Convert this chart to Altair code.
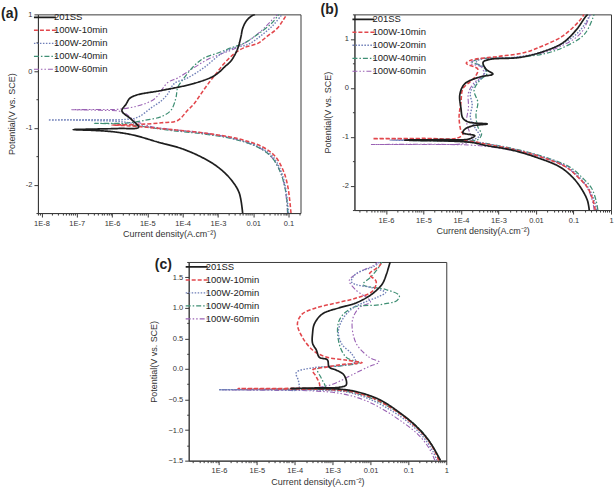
import altair as alt
import pandas as pd

SERIES = ["201SS", "100W-10min", "100W-20min", "100W-40min", "100W-60min"]
COLORS = ["#1e1e1e", "#e2474c", "#6f7fb8", "#3f8f74", "#9a62b4"]
DASHES = [[1, 0], [4, 2], [1.5, 1.5], [5, 2, 1.5, 2], [5, 2, 1.5, 2, 1.5, 2]]
WIDTHS = [1.7, 1.1, 1.1, 1.1, 1.1]
FONT = "Liberation Sans"

# ---------------- panel (a): log10(current density), potential (V) ----------------
a_201_logi = [-2.30, -2.40, -2.63, -3.00, -3.48, -4.05, -4.70, -5.37, -5.94, -6.50, -7.10, -6.50, -5.80, -5.25, -5.45,
              -5.72, -5.60, -5.50, -5.30, -4.60, -3.70, -3.10, -2.80, -2.63, -2.45, -2.35, -2.30, -2.20, -2.05, -1.95]
a_201_E = [-2.50, -2.14, -1.91, -1.69, -1.51, -1.36, -1.25, -1.13, -1.07, -1.045, -1.03, -1.02, -1.01, -0.99, -0.85,
           -0.70, -0.58, -0.48, -0.42, -0.34, -0.22, -0.08, 0.08, 0.18, 0.38, 0.60, 0.75, 0.88, 0.97, 1.00]
a_10_logi = [-0.93, -0.97, -1.03, -1.15, -1.38, -1.75, -2.50, -3.40, -4.30, -5.00, -5.60, -6.00, -5.30, -4.60, -4.14,
             -3.86, -3.67, -3.48, -3.25, -3.06, -2.83, -2.55, -2.27, -1.87, -1.59, -1.31, -1.14, -1.05]
a_10_E = [-2.50, -2.25, -2.00, -1.75, -1.50, -1.33, -1.18, -1.09, -1.03, -0.99, -0.96, -0.95, -0.94, -0.91, -0.87,
          -0.69, -0.57, -0.40, -0.20, -0.05, 0.13, 0.30, 0.41, 0.49, 0.62, 0.76, 0.91, 1.00]
a_20_logi = [-1.00, -1.04, -1.10, -1.22, -1.45, -1.85, -2.60, -3.50, -4.40, -5.10, -5.60, -6.50, -7.80, -6.50, -5.60,
             -5.26, -4.90, -4.60, -4.42, -4.24, -3.86, -3.40, -2.92, -2.55, -2.15, -1.79, -1.42, -1.22, -1.18]
a_20_E = [-2.50, -2.25, -2.00, -1.75, -1.50, -1.33, -1.18, -1.09, -1.03, -0.97, -0.90, -0.87, -0.86, -0.855, -0.85,
          -0.81, -0.65, -0.52, -0.40, -0.22, -0.12, 0.06, 0.30, 0.41, 0.47, 0.62, 0.82, 0.97, 1.00]
a_40_logi = [-1.02, -1.05, -1.12, -1.25, -1.50, -1.90, -2.60, -3.50, -4.40, -5.20, -5.80, -6.50, -5.60, -5.10, -4.60,
             -4.33, -4.19, -4.14, -3.96, -3.68, -3.40, -3.00, -2.63, -2.27, -1.87, -1.50, -1.31, -1.28]
a_40_E = [-2.50, -2.25, -2.00, -1.75, -1.50, -1.33, -1.19, -1.10, -1.04, -0.97, -0.93, -0.92, -0.915, -0.87, -0.80,
          -0.69, -0.47, -0.29, -0.12, 0.09, 0.23, 0.32, 0.41, 0.49, 0.65, 0.83, 0.97, 1.00]
a_60_logi = [-1.03, -1.06, -1.12, -1.25, -1.50, -1.90, -2.60, -3.50, -4.40, -5.00, -5.40, -5.70, -6.30, -7.15, -6.20,
             -5.80, -5.26, -4.80, -4.42, -4.14, -3.68, -3.28, -2.92, -2.55, -2.15, -1.79, -1.50, -1.31]
a_60_E = [-2.50, -2.25, -2.00, -1.75, -1.50, -1.33, -1.18, -1.08, -1.02, -0.96, -0.85, -0.72, -0.69, -0.68, -0.675,
          -0.67, -0.61, -0.49, -0.20, -0.12, 0.06, 0.21, 0.30, 0.39, 0.53, 0.70, 0.88, 1.00]

# ---------------- panel (b) ----------------
b_201_logi = [-0.58, -0.63, -0.80, -1.00, -1.36, -2.00, -2.61, -3.33, -3.70, -4.30, -5.00, -5.50, -4.50, -3.80, -3.63,
              -3.95, -3.90, -3.70, -3.30, -3.80, -3.95, -4.00, -4.03, -3.90, -3.50, -3.15, -3.33, -3.41, -3.23, -2.43,
              -1.73, -1.28, -0.93, -0.67, -0.62]
b_201_E = [-2.50, -2.30, -2.05, -1.85, -1.62, -1.42, -1.28, -1.18, -1.12, -1.09, -1.08, -1.07, -1.06, -1.05, -0.98,
           -0.92, -0.85, -0.78, -0.74, -0.70, -0.62, -0.42, -0.14, 0.08, 0.22, 0.28, 0.38, 0.52, 0.58, 0.62,
           0.76, 0.92, 1.18, 1.46, 1.50]
b_10_logi = [-0.42, -0.48, -0.62, -0.85, -1.20, -1.85, -2.50, -3.20, -3.70, -4.20, -5.00, -6.35, -5.00, -4.10, -3.95,
             -4.00, -4.05, -4.00, -3.95, -3.76, -3.60, -3.55, -3.86, -3.75, -3.00, -2.30, -1.81, -1.28, -0.83, -0.72]
b_10_E = [-2.50, -2.30, -2.05, -1.85, -1.62, -1.42, -1.28, -1.17, -1.10, -1.06, -1.045, -1.04, -1.035, -1.03, -0.95,
          -0.88, -0.60, -0.30, -0.02, 0.12, 0.25, 0.38, 0.50, 0.56, 0.64, 0.72, 0.86, 1.06, 1.38, 1.50]
b_20_logi = [-0.38, -0.45, -0.60, -0.82, -1.15, -1.80, -2.45, -3.15, -3.60, -4.20, -5.00, -5.90, -4.50, -3.70, -3.50,
             -3.60, -3.75, -3.70, -3.75, -3.60, -3.40, -3.35, -3.60, -3.50, -2.60, -1.90, -1.30, -0.85, -0.55]
b_20_E = [-2.50, -2.30, -2.05, -1.85, -1.62, -1.42, -1.28, -1.17, -1.11, -1.08, -1.075, -1.07, -1.065, -1.06, -0.98,
          -0.85, -0.60, -0.35, -0.10, 0.10, 0.25, 0.40, 0.50, 0.58, 0.62, 0.72, 0.90, 1.15, 1.50]
b_40_logi = [-0.35, -0.40, -0.52, -0.75, -1.10, -1.75, -2.40, -3.10, -3.55, -4.30, -5.30, -4.20, -3.55, -3.45, -3.55,
             -3.60, -3.55, -3.65, -3.50, -3.30, -3.45, -3.70, -3.55, -2.50, -1.75, -1.20, -0.70, -0.45]
b_40_E = [-2.50, -2.30, -2.05, -1.85, -1.62, -1.42, -1.28, -1.17, -1.12, -1.09, -1.08, -1.075, -1.06, -0.95, -0.80,
          -0.55, -0.30, -0.05, 0.15, 0.30, 0.45, 0.52, 0.58, 0.62, 0.70, 0.85, 1.10, 1.50]
b_60_logi = [-0.45, -0.50, -0.63, -0.85, -1.20, -1.85, -2.50, -3.20, -3.80, -4.80, -6.40, -4.80, -4.00, -3.70, -3.75,
             -3.85, -3.80, -3.80, -3.65, -3.40, -3.45, -3.75, -3.60, -2.55, -1.80, -1.25, -0.80, -0.55]
b_60_E = [-2.50, -2.30, -2.05, -1.85, -1.62, -1.42, -1.30, -1.21, -1.17, -1.16, -1.16, -1.155, -1.15, -1.08, -0.95,
          -0.70, -0.40, -0.10, 0.10, 0.27, 0.42, 0.50, 0.57, 0.62, 0.72, 0.88, 1.12, 1.50]

# ---------------- panel (c) ----------------
c_201_logi = [-0.15, -0.44, -0.79, -1.24, -1.77, -2.38, -2.83, -3.40, -4.10, -3.40, -2.83, -2.64, -2.70, -2.90, -3.09,
              -3.14, -3.35, -3.43, -3.53, -3.53, -3.48, -3.27, -2.83, -2.38, -1.95, -1.69, -1.58, -1.50, -1.48]
c_201_E = [-1.50, -1.19, -0.94, -0.71, -0.50, -0.37, -0.33, -0.32, -0.32, -0.31, -0.30, -0.26, -0.10, -0.02, 0.03,
           0.15, 0.19, 0.31, 0.42, 0.58, 0.74, 0.90, 1.00, 1.08, 1.23, 1.39, 1.55, 1.71, 1.75]
c_10_logi = [-0.20, -0.30, -0.50, -0.85, -1.30, -1.85, -2.45, -3.00, -3.80, -5.50, -4.00, -3.35, -3.43, -3.53, -3.17,
             -2.64, -2.22, -2.60, -3.20, -3.53, -3.80, -3.93, -3.80, -3.43, -2.90, -2.38, -1.95, -1.85, -2.03, -1.77,
             -1.70]
c_10_E = [-1.50, -1.35, -1.15, -0.92, -0.70, -0.50, -0.38, -0.34, -0.33, -0.32, -0.315, -0.29, -0.13, -0.02, 0.03,
          0.08, 0.10, 0.14, 0.20, 0.31, 0.52, 0.74, 0.90, 1.00, 1.08, 1.16, 1.27, 1.43, 1.55, 1.68, 1.75]
c_20_logi = [-0.25, -0.35, -0.60, -0.95, -1.45, -2.00, -2.60, -3.20, -4.50, -6.00, -4.50, -3.90, -3.90, -3.96, -3.50,
             -2.70, -2.40, -2.50, -2.75, -2.85, -2.75, -2.50, -2.20, -1.80, -1.60, -1.90, -2.50, -2.40, -1.90, -1.75]
c_20_E = [-1.50, -1.35, -1.12, -0.90, -0.68, -0.50, -0.38, -0.35, -0.34, -0.34, -0.335, -0.33, -0.20, -0.06, 0.02,
          0.06, 0.12, 0.25, 0.40, 0.60, 0.80, 0.98, 1.08, 1.18, 1.25, 1.32, 1.42, 1.55, 1.68, 1.75]
c_40_logi = [-0.18, -0.28, -0.50, -0.85, -1.35, -1.90, -2.50, -3.10, -3.80, -4.50, -3.80, -3.20, -3.30, -3.40, -2.80,
             -2.30, -2.64, -2.83, -2.83, -2.48, -1.77, -1.30, -1.24, -1.60, -2.20, -2.00, -1.80, -1.70]
c_40_E = [-1.50, -1.35, -1.13, -0.90, -0.68, -0.50, -0.38, -0.34, -0.33, -0.33, -0.325, -0.31, -0.15, 0.00, 0.05,
          0.10, 0.19, 0.42, 0.79, 1.00, 1.05, 1.12, 1.20, 1.30, 1.38, 1.50, 1.65, 1.75]
c_60_logi = [-0.30, -0.45, -0.75, -1.20, -1.70, -2.20, -2.80, -3.50, -4.50, -5.92, -4.50, -3.60, -3.00, -2.50, -2.00,
             -1.77, -2.03, -2.38, -2.48, -2.30, -2.00, -2.40, -2.56, -2.30, -1.90, -1.80]
c_60_E = [-1.50, -1.30, -1.07, -0.85, -0.65, -0.50, -0.40, -0.36, -0.35, -0.34, -0.335, -0.32, -0.25, -0.10, 0.05,
          0.11, 0.19, 0.42, 0.79, 1.00, 1.10, 1.30, 1.45, 1.58, 1.70, 1.75]

# ---------------- axes ----------------
A_X_DECADES = [1e-8, 1e-7, 1e-6, 1e-5, 1e-4, 1e-3, 0.01, 0.1]
BC_X_DECADES = [1e-6, 1e-5, 1e-4, 1e-3, 0.01, 0.1, 1]
AB_Y_STEPS = [-2.5, -2.0, -1.5, -1.0, -0.5, 0.0, 0.5, 1.0, 1.5]
C_Y_STEPS = [-1.5, -1.25, -1.0, -0.75, -0.5, -0.25, 0.0, 0.25, 0.5, 0.75, 1.0, 1.25, 1.5, 1.75]

DEC_TEST = "abs(log(datum.value)/LN10 - round(log(datum.value)/LN10)) < 0.01"
XLABEL = ("(" + DEC_TEST + ") ? (datum.value >= 0.01 ? toString(datum.value) : "
          "'1E' + toString(round(log(datum.value)/LN10))) : ''")
INT_TEST = "abs(datum.value - round(datum.value)) < 0.001"
HALF_TEST = "abs(datum.value*2 - round(datum.value*2)) < 0.001"

AX_COL = "#3a3a3a"


def minor_values(decades, lo, hi):
    vals = []
    for d in [decades[0] / 10] + decades:
        for m in range(1, 10):
            v = m * d
            if lo <= v <= hi:
                vals.append(v)
    return vals


def frame(curves):
    rows = []
    for name, (logi, pot) in reversed(list(zip(SERIES, curves))):
        for k, (li, e) in enumerate(zip(logi, pot)):
            rows.append({"series": name, "idx": k, "i": 10 ** li, "E": e})
    return pd.DataFrame(rows)


def panel(curves, xlog, ydom, decades, ysteps, ytest, yexpr, label, ldx, ldy, w, h, lgx, lgy):
    df = frame(curves)
    lo, hi = 10 ** xlog[0], 10 ** xlog[1]
    xaxis = alt.Axis(values=minor_values(decades, lo, hi), labelExpr=XLABEL,
                     tickSize={"condition": {"test": DEC_TEST, "value": 4}, "value": 2},
                     labelFlush=False, labelOverlap=False, grid=False,
                     title="Current density(A.cm⁻²)", titleFontSize=9, titleFontWeight="normal",
                     labelFontSize=7.5, labelPadding=2, titlePadding=3,
                     domainColor=AX_COL, tickColor=AX_COL, labelColor="#333", titleColor="#333")
    yaxis = alt.Axis(values=ysteps, labelExpr=f"({ytest}) ? {yexpr} : ''",
                     tickSize={"condition": {"test": ytest, "value": 4}, "value": 2},
                     labelFlush=False, labelOverlap=False, grid=False,
                     title="Potential(V vs. SCE)", titleFontSize=9, titleFontWeight="normal",
                     labelFontSize=7.5, labelPadding=2, titlePadding=9,
                     domainColor=AX_COL, tickColor=AX_COL, labelColor="#333", titleColor="#333")
    leg = alt.Legend(title=None, orient="none", legendX=lgx, legendY=lgy, symbolType="M-2.2,0H2.2",
                     symbolSize=100, labelFontSize=9.5, labelFont=FONT, rowPadding=2, padding=0,
                     labelOffset=3, labelColor="#222")
    lines = alt.Chart(df).mark_line(clip=True, interpolate="catmull-rom").encode(
        x=alt.X("i:Q", scale=alt.Scale(type="log", domain=[lo, hi], nice=False), axis=xaxis),
        y=alt.Y("E:Q", scale=alt.Scale(domain=ydom, nice=False, zero=False), axis=yaxis),
        color=alt.Color("series:N", scale=alt.Scale(domain=SERIES, range=COLORS), legend=leg),
        strokeDash=alt.StrokeDash("series:N", scale=alt.Scale(domain=SERIES, range=DASHES), legend=leg),
        strokeWidth=alt.StrokeWidth("series:N", scale=alt.Scale(domain=SERIES, range=WIDTHS), legend=leg),
        order=alt.Order("idx:Q"),
    )
    tag = alt.Chart(pd.DataFrame({"t": [label]})).mark_text(
        align="left", baseline="middle", fontSize=14, font=FONT, fontWeight="bold", color="#222"
    ).encode(x=alt.value(ldx), y=alt.value(ldy), text="t:N")
    return alt.layer(lines, tag).properties(width=w, height=h)


pa = panel([(a_201_logi, a_201_E), (a_10_logi, a_10_E), (a_20_logi, a_20_E), (a_40_logi, a_40_E), (a_60_logi, a_60_E)],
           (-8.1, -0.66), [-2.5, 1.0], A_X_DECADES, AB_Y_STEPS[:-1], INT_TEST, "toString(datum.value)",
           "(a)", -37, 0, 263, 199, 1, -3)
pb = panel([(b_201_logi, b_201_E), (b_10_logi, b_10_E), (b_20_logi, b_20_E), (b_40_logi, b_40_E), (b_60_logi, b_60_E)],
           (-6.84, 0.0), [-2.5, 1.5], BC_X_DECADES, AB_Y_STEPS, INT_TEST, "toString(datum.value)",
           "(b)", -34, -4, 257, 196, 3, -1)
pc = panel([(c_201_logi, c_201_E), (c_10_logi, c_10_E), (c_20_logi, c_20_E), (c_40_logi, c_40_E), (c_60_logi, c_60_E)],
           (-6.8, 0.0), [-1.5, 1.75], BC_X_DECADES, C_Y_STEPS, HALF_TEST, "format(datum.value, '.1f')",
           "(c)", -34, 3, 258, 199, 2, -1)

spacer = alt.Chart(pd.DataFrame({"s": [0]})).mark_point(opacity=0).properties(
    width=110, height=10, view=alt.ViewBackground(stroke="transparent"))

IND = dict(x="independent", y="independent", color="independent",
           strokeDash="independent", strokeWidth="independent")

top = alt.hconcat(pa, pb, spacing=18).resolve_scale(**IND).resolve_legend(
    color="independent", strokeDash="independent", strokeWidth="independent")
bottom = alt.hconcat(spacer, pc, spacing=0).resolve_scale(**IND).resolve_legend(
    color="independent", strokeDash="independent", strokeWidth="independent")

chart = alt.vconcat(top, bottom, spacing=18).resolve_scale(**IND).resolve_legend(
    color="independent", strokeDash="independent", strokeWidth="independent"
).properties(padding={"left": 0, "top": 2, "right": 0, "bottom": 0}).configure(
    font=FONT
).configure_view(stroke=AX_COL, strokeWidth=1)

chart.save("out.html", embed_options={"renderer": "svg", "actions": False})
